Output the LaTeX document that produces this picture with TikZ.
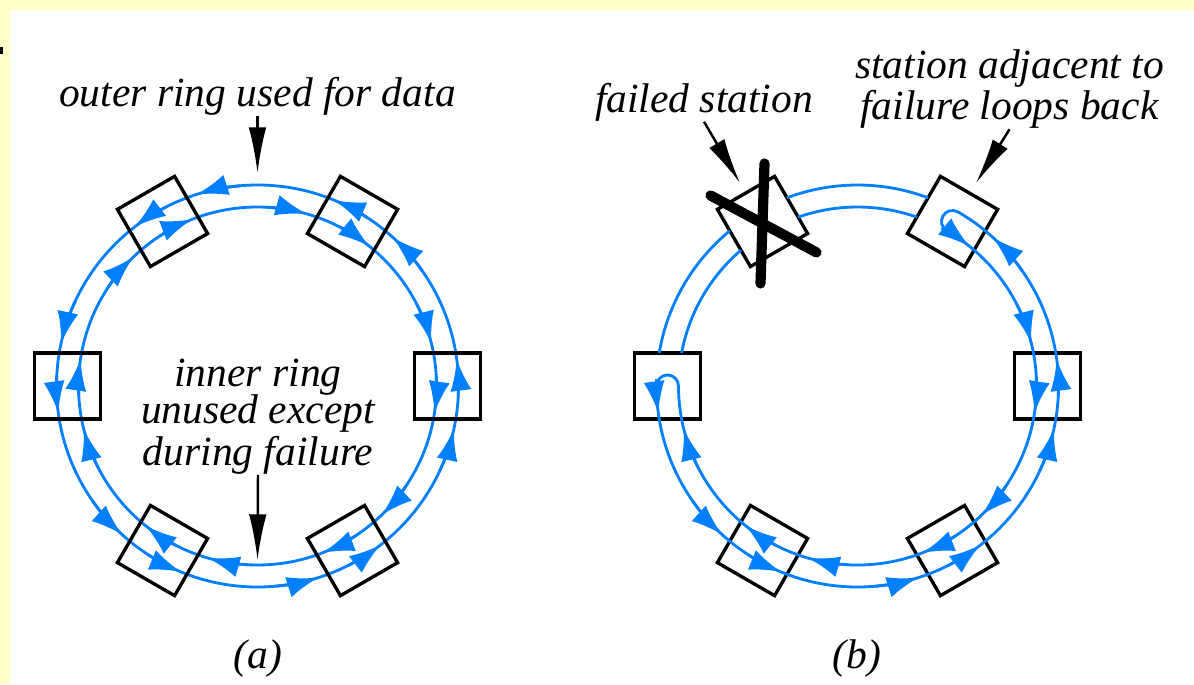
\documentclass[tikz,border=0pt]{standalone}
\usepackage{fontspec}
\setmainfont{Liberation Serif}
\usepackage{tikz}
\usetikzlibrary{arrows.meta}

\definecolor{ringblue}{RGB}{0,128,255}
\definecolor{paleyellow}{RGB}{255,255,204}

\begin{document}
\begin{tikzpicture}[x=0.01cm, y=0.01cm,
    station/.style={draw, line width=0.95pt, minimum size=0.66cm, inner sep=0pt},
    ring/.style={ringblue, line width=0.8pt},
    flow/.style={ring, -{Latex[length=9pt,width=6pt]}},
    note/.style={font=\itshape\fontsize{11.8}{10.7}\selectfont, inner sep=0pt, align=center},
    pointer/.style={line width=0.7pt, -{Latex[length=13pt,width=5pt]}},
    cross/.style={line width=2.9pt, line cap=round}]

    \useasboundingbox (0,0) rectangle (1194,684);
    \fill[paleyellow] (0,0) rectangle (1194,684);
    \fill[white] (9.5,0) rectangle (1194,674.5);
    \fill[black] (0,630) rectangle (3,637);

    \coordinate (ca) at (257.5,298);
    \coordinate (cb) at (857.5,298);

    % (a) both rings intact
    \draw[ring] (ca) circle[radius=201];
    \draw[ring] (ca) circle[radius=179];

    \node[station] (a0) at ([shift={(0:190)}]ca) {};
    \node[station, rotate=60] (a60) at ([shift={(60:190)}]ca) {};
    \node[station, rotate=120] (a120) at ([shift={(120:190)}]ca) {};
    \node[station] (a180) at ([shift={(180:190)}]ca) {};
    \node[station, rotate=240] (a240) at ([shift={(240:190)}]ca) {};
    \node[station, rotate=300] (a300) at ([shift={(300:190)}]ca) {};

    \foreach \t in {0,60,...,300}{
        % outer ring runs anticlockwise, inner ring clockwise
        \draw[flow] ([shift={(\t-25:201)}]ca) arc[start angle=\t-25, end angle=\t-12.3, radius=201];
        \draw[flow] ([shift={(\t-3:201)}]ca) arc[start angle=\t-3, end angle=\t+7.7, radius=201];
        \draw[flow] ([shift={(\t+27:179)}]ca) arc[start angle=\t+27, end angle=\t+13.9, radius=179];
        \draw[flow] ([shift={(\t+3:179)}]ca) arc[start angle=\t+3, end angle=\t-8.7, radius=179];
    }

    \node[note] (outer) at (257.5,588) {outer ring used for data};
    \node[note] (inner) at (258,267.5) {inner ring\\unused except\\during failure};
    \node[note] (lbla) at (258,25) {(a)};
    \coordinate (topa) at (257.5,511);
    \coordinate (bota) at (257.5,124);
    \draw[pointer] (outer.south) -- (topa);
    \draw[pointer] (inner.south) -- (bota);

    % (b) station at 120 has failed
    \node[station] (b0) at ([shift={(0:190)}]cb) {};
    \node[station, rotate=60] (b60) at ([shift={(60:190)}]cb) {};
    \node[station, rotate=120] (b120) at ([shift={(120:190)}]cb) {};
    \node[station] (b180) at ([shift={(180:190)}]cb) {};
    \node[station, rotate=240] (b240) at ([shift={(240:190)}]cb) {};
    \node[station, rotate=300] (b300) at ([shift={(300:190)}]cb) {};

    \draw[ring] ([shift={(69.45:201)}]cb) arc[start angle=69.45, end angle=110.55, radius=201];
    \draw[ring] ([shift={(70.62:179)}]cb) arc[start angle=70.62, end angle=109.38, radius=179];
    \draw[ring] ([shift={(129.45:201)}]cb) arc[start angle=129.45, end angle=170.55, radius=201];
    \draw[ring] ([shift={(130.62:179)}]cb) arc[start angle=130.62, end angle=169.38, radius=179];
    % loop back at 60 and 180
    \draw[ring] ([shift={(180:201)}]cb) arc[start angle=180, end angle=420, radius=201]
        arc[start angle=60, end angle=240, radius=11]
        arc[start angle=60, end angle=-180, radius=179]
        arc[start angle=0, end angle=180, radius=11] -- cycle;

    \foreach \t in {0,240,300}{
        \draw[flow] ([shift={(\t-25:201)}]cb) arc[start angle=\t-25, end angle=\t-12.3, radius=201];
        \draw[flow] ([shift={(\t-3:201)}]cb) arc[start angle=\t-3, end angle=\t+7.7, radius=201];
        \draw[flow] ([shift={(\t+27:179)}]cb) arc[start angle=\t+27, end angle=\t+13.9, radius=179];
        \draw[flow] ([shift={(\t+3:179)}]cb) arc[start angle=\t+3, end angle=\t-8.7, radius=179];
    }
    \draw[flow] ([shift={(207:179)}]cb) arc[start angle=207, end angle=193.9, radius=179];
    \draw[flow] ([shift={(178:201)}]cb) arc[start angle=178, end angle=187.7, radius=201];
    \draw[flow] ([shift={(35:201)}]cb) arc[start angle=35, end angle=47.7, radius=201];
    \draw[flow] ([shift={(62:179)}]cb) arc[start angle=62, end angle=51.3, radius=179];

    \draw[cross] ([shift={(-52,26)}]b120.center) -- ([shift={(54,-31)}]b120.center);
    \draw[cross] ([shift={(2,58)}]b120.center) -- ([shift={(-2,-62)}]b120.center);

    \node[note] (failed) at (704,582) {failed station};
    \node[note] (adjacent) at (1009.5,595) {station adjacent to\\failure loops back};
    \node[note] (lblb) at (857,25) {(b)};
    \coordinate (failtip) at (740,501);
    \coordinate (looptip) at (976,501);
    \draw[pointer] (failed.south) -- (failtip);
    \draw[pointer] (adjacent.south) -- (looptip);

\end{tikzpicture}
\end{document}
